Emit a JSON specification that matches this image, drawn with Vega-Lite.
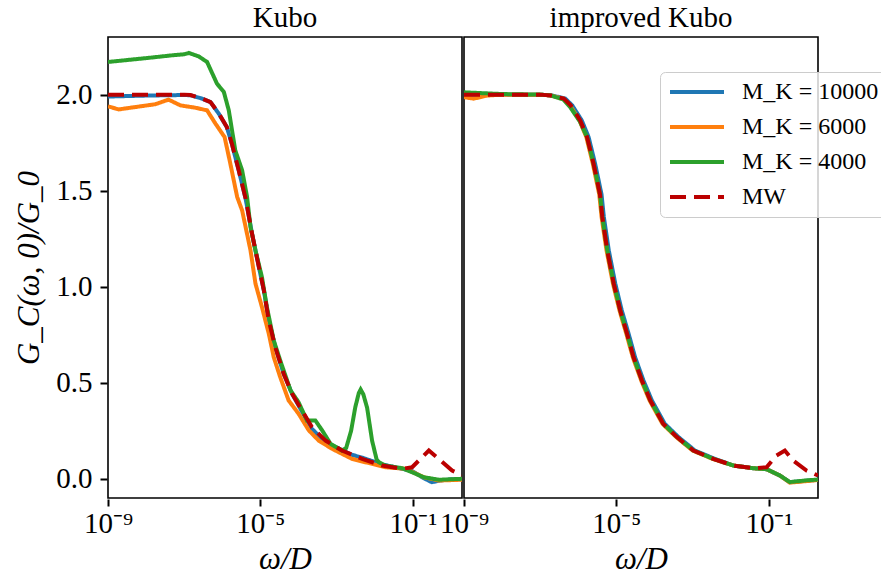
{
  "$schema": "https://vega.github.io/schema/vega-lite/v6.json",
  "padding": {"left": 13, "top": 4, "right": 0, "bottom": 0},
  "background": "white",
  "datasets": {
    "curves": [
      {"panel": "Kubo", "series": "M_K = 10000", "x": 1e-9, "y": 1.99},
      {"panel": "Kubo", "series": "M_K = 10000", "x": 1e-8, "y": 1.995},
      {"panel": "Kubo", "series": "M_K = 10000", "x": 1e-7, "y": 1.998},
      {"panel": "Kubo", "series": "M_K = 10000", "x": 1.445e-7, "y": 1.997},
      {"panel": "Kubo", "series": "M_K = 10000", "x": 2.951e-7, "y": 1.979},
      {"panel": "Kubo", "series": "M_K = 10000", "x": 4.898e-7, "y": 1.961},
      {"panel": "Kubo", "series": "M_K = 10000", "x": 8.128e-7, "y": 1.9},
      {"panel": "Kubo", "series": "M_K = 10000", "x": 1.318e-6, "y": 1.83},
      {"panel": "Kubo", "series": "M_K = 10000", "x": 1.778e-6, "y": 1.745},
      {"panel": "Kubo", "series": "M_K = 10000", "x": 2.692e-6, "y": 1.606},
      {"panel": "Kubo", "series": "M_K = 10000", "x": 4.074e-6, "y": 1.46},
      {"panel": "Kubo", "series": "M_K = 10000", "x": 6.026e-6, "y": 1.276},
      {"panel": "Kubo", "series": "M_K = 10000", "x": 9.12e-6, "y": 1.102},
      {"panel": "Kubo", "series": "M_K = 10000", "x": 1.23e-5, "y": 0.981},
      {"panel": "Kubo", "series": "M_K = 10000", "x": 1.66e-5, "y": 0.824},
      {"panel": "Kubo", "series": "M_K = 10000", "x": 2.455e-5, "y": 0.685},
      {"panel": "Kubo", "series": "M_K = 10000", "x": 4.074e-5, "y": 0.547},
      {"panel": "Kubo", "series": "M_K = 10000", "x": 6.761e-5, "y": 0.443},
      {"panel": "Kubo", "series": "M_K = 10000", "x": 1.23e-4, "y": 0.35},
      {"panel": "Kubo", "series": "M_K = 10000", "x": 2.239e-4, "y": 0.26},
      {"panel": "Kubo", "series": "M_K = 10000", "x": 5.129e-4, "y": 0.19},
      {"panel": "Kubo", "series": "M_K = 10000", "x": 1.38e-3, "y": 0.15},
      {"panel": "Kubo", "series": "M_K = 10000", "x": 2.512e-3, "y": 0.125},
      {"panel": "Kubo", "series": "M_K = 10000", "x": 4.677e-3, "y": 0.11},
      {"panel": "Kubo", "series": "M_K = 10000", "x": 1.549e-2, "y": 0.075},
      {"panel": "Kubo", "series": "M_K = 10000", "x": 5.248e-2, "y": 0.052},
      {"panel": "Kubo", "series": "M_K = 10000", "x": 0.0955, "y": 0.04},
      {"panel": "Kubo", "series": "M_K = 10000", "x": 0.195, "y": 0.003},
      {"panel": "Kubo", "series": "M_K = 10000", "x": 0.316, "y": -0.018},
      {"panel": "Kubo", "series": "M_K = 10000", "x": 0.4786, "y": -0.01},
      {"panel": "Kubo", "series": "M_K = 10000", "x": 1.0, "y": -0.003},
      {"panel": "Kubo", "series": "M_K = 10000", "x": 1.95, "y": -0.002},

      {"panel": "Kubo", "series": "M_K = 6000", "x": 1e-9, "y": 1.939},
      {"panel": "Kubo", "series": "M_K = 6000", "x": 1.905e-9, "y": 1.923},
      {"panel": "Kubo", "series": "M_K = 6000", "x": 1.738e-8, "y": 1.95},
      {"panel": "Kubo", "series": "M_K = 6000", "x": 3.89e-8, "y": 1.974},
      {"panel": "Kubo", "series": "M_K = 6000", "x": 7.943e-8, "y": 1.944},
      {"panel": "Kubo", "series": "M_K = 6000", "x": 1.95e-7, "y": 1.932},
      {"panel": "Kubo", "series": "M_K = 6000", "x": 3.981e-7, "y": 1.918},
      {"panel": "Kubo", "series": "M_K = 6000", "x": 6.607e-7, "y": 1.849},
      {"panel": "Kubo", "series": "M_K = 6000", "x": 1.148e-6, "y": 1.779},
      {"panel": "Kubo", "series": "M_K = 6000", "x": 1.622e-6, "y": 1.641},
      {"panel": "Kubo", "series": "M_K = 6000", "x": 2.455e-6, "y": 1.467},
      {"panel": "Kubo", "series": "M_K = 6000", "x": 3.311e-6, "y": 1.397},
      {"panel": "Kubo", "series": "M_K = 6000", "x": 5.495e-6, "y": 1.189},
      {"panel": "Kubo", "series": "M_K = 6000", "x": 7.413e-6, "y": 1.016},
      {"panel": "Kubo", "series": "M_K = 6000", "x": 1.096e-5, "y": 0.894},
      {"panel": "Kubo", "series": "M_K = 6000", "x": 1.66e-5, "y": 0.755},
      {"panel": "Kubo", "series": "M_K = 6000", "x": 2.239e-5, "y": 0.633},
      {"panel": "Kubo", "series": "M_K = 6000", "x": 3.311e-5, "y": 0.529},
      {"panel": "Kubo", "series": "M_K = 6000", "x": 5.495e-5, "y": 0.408},
      {"panel": "Kubo", "series": "M_K = 6000", "x": 1e-4, "y": 0.339},
      {"panel": "Kubo", "series": "M_K = 6000", "x": 1.862e-4, "y": 0.252},
      {"panel": "Kubo", "series": "M_K = 6000", "x": 3.388e-4, "y": 0.199},
      {"panel": "Kubo", "series": "M_K = 6000", "x": 7.586e-4, "y": 0.156},
      {"panel": "Kubo", "series": "M_K = 6000", "x": 2.512e-3, "y": 0.104},
      {"panel": "Kubo", "series": "M_K = 6000", "x": 5.754e-3, "y": 0.086},
      {"panel": "Kubo", "series": "M_K = 6000", "x": 1.905e-2, "y": 0.06},
      {"panel": "Kubo", "series": "M_K = 6000", "x": 6.457e-2, "y": 0.052},
      {"panel": "Kubo", "series": "M_K = 6000", "x": 0.195, "y": 0.008},
      {"panel": "Kubo", "series": "M_K = 6000", "x": 0.4786, "y": -0.009},
      {"panel": "Kubo", "series": "M_K = 6000", "x": 1.95, "y": -0.005},

      {"panel": "Kubo", "series": "M_K = 4000", "x": 1e-9, "y": 2.17},
      {"panel": "Kubo", "series": "M_K = 4000", "x": 1e-8, "y": 2.19},
      {"panel": "Kubo", "series": "M_K = 4000", "x": 5.012e-8, "y": 2.205},
      {"panel": "Kubo", "series": "M_K = 4000", "x": 1e-7, "y": 2.21},
      {"panel": "Kubo", "series": "M_K = 4000", "x": 1.318e-7, "y": 2.217},
      {"panel": "Kubo", "series": "M_K = 4000", "x": 2.399e-7, "y": 2.199},
      {"panel": "Kubo", "series": "M_K = 4000", "x": 3.981e-7, "y": 2.17},
      {"panel": "Kubo", "series": "M_K = 4000", "x": 7.244e-7, "y": 2.057},
      {"panel": "Kubo", "series": "M_K = 4000", "x": 1.096e-6, "y": 2.014},
      {"panel": "Kubo", "series": "M_K = 4000", "x": 1.479e-6, "y": 1.918},
      {"panel": "Kubo", "series": "M_K = 4000", "x": 2.188e-6, "y": 1.71},
      {"panel": "Kubo", "series": "M_K = 4000", "x": 3.311e-6, "y": 1.606},
      {"panel": "Kubo", "series": "M_K = 4000", "x": 4.467e-6, "y": 1.467},
      {"panel": "Kubo", "series": "M_K = 4000", "x": 5.495e-6, "y": 1.31},
      {"panel": "Kubo", "series": "M_K = 4000", "x": 7.413e-6, "y": 1.189},
      {"panel": "Kubo", "series": "M_K = 4000", "x": 1.096e-5, "y": 1.05},
      {"panel": "Kubo", "series": "M_K = 4000", "x": 1.479e-5, "y": 0.894},
      {"panel": "Kubo", "series": "M_K = 4000", "x": 2.239e-5, "y": 0.72},
      {"panel": "Kubo", "series": "M_K = 4000", "x": 3.311e-5, "y": 0.616},
      {"panel": "Kubo", "series": "M_K = 4000", "x": 6.166e-5, "y": 0.46},
      {"panel": "Kubo", "series": "M_K = 4000", "x": 1e-4, "y": 0.399},
      {"panel": "Kubo", "series": "M_K = 4000", "x": 1.66e-4, "y": 0.304},
      {"panel": "Kubo", "series": "M_K = 4000", "x": 2.754e-4, "y": 0.304},
      {"panel": "Kubo", "series": "M_K = 4000", "x": 4.169e-4, "y": 0.252},
      {"panel": "Kubo", "series": "M_K = 4000", "x": 6.918e-4, "y": 0.182},
      {"panel": "Kubo", "series": "M_K = 4000", "x": 1.38e-3, "y": 0.147},
      {"panel": "Kubo", "series": "M_K = 4000", "x": 1.778e-3, "y": 0.16},
      {"panel": "Kubo", "series": "M_K = 4000", "x": 2.399e-3, "y": 0.25},
      {"panel": "Kubo", "series": "M_K = 4000", "x": 3.09e-3, "y": 0.373},
      {"panel": "Kubo", "series": "M_K = 4000", "x": 3.802e-3, "y": 0.445},
      {"panel": "Kubo", "series": "M_K = 4000", "x": 4.266e-3, "y": 0.465},
      {"panel": "Kubo", "series": "M_K = 4000", "x": 5.012e-3, "y": 0.44},
      {"panel": "Kubo", "series": "M_K = 4000", "x": 6.31e-3, "y": 0.37},
      {"panel": "Kubo", "series": "M_K = 4000", "x": 8.511e-3, "y": 0.199},
      {"panel": "Kubo", "series": "M_K = 4000", "x": 1.122e-2, "y": 0.1},
      {"panel": "Kubo", "series": "M_K = 4000", "x": 1.288e-2, "y": 0.086},
      {"panel": "Kubo", "series": "M_K = 4000", "x": 1.905e-2, "y": 0.069},
      {"panel": "Kubo", "series": "M_K = 4000", "x": 5.248e-2, "y": 0.055},
      {"panel": "Kubo", "series": "M_K = 4000", "x": 0.0955, "y": 0.034},
      {"panel": "Kubo", "series": "M_K = 4000", "x": 0.195, "y": 0.008},
      {"panel": "Kubo", "series": "M_K = 4000", "x": 0.4786, "y": -0.005},
      {"panel": "Kubo", "series": "M_K = 4000", "x": 1.95, "y": 0.0},

      {"panel": "Kubo", "series": "MW", "x": 1e-9, "y": 2.0},
      {"panel": "Kubo", "series": "MW", "x": 1e-7, "y": 2.0},
      {"panel": "Kubo", "series": "MW", "x": 1.445e-7, "y": 1.998},
      {"panel": "Kubo", "series": "MW", "x": 2.951e-7, "y": 1.979},
      {"panel": "Kubo", "series": "MW", "x": 4.898e-7, "y": 1.961},
      {"panel": "Kubo", "series": "MW", "x": 8.128e-7, "y": 1.901},
      {"panel": "Kubo", "series": "MW", "x": 1.318e-6, "y": 1.831},
      {"panel": "Kubo", "series": "MW", "x": 1.778e-6, "y": 1.745},
      {"panel": "Kubo", "series": "MW", "x": 2.692e-6, "y": 1.606},
      {"panel": "Kubo", "series": "MW", "x": 4.074e-6, "y": 1.46},
      {"panel": "Kubo", "series": "MW", "x": 6.026e-6, "y": 1.276},
      {"panel": "Kubo", "series": "MW", "x": 9.12e-6, "y": 1.102},
      {"panel": "Kubo", "series": "MW", "x": 1.23e-5, "y": 0.981},
      {"panel": "Kubo", "series": "MW", "x": 1.66e-5, "y": 0.824},
      {"panel": "Kubo", "series": "MW", "x": 2.455e-5, "y": 0.685},
      {"panel": "Kubo", "series": "MW", "x": 4.074e-5, "y": 0.547},
      {"panel": "Kubo", "series": "MW", "x": 6.761e-5, "y": 0.443},
      {"panel": "Kubo", "series": "MW", "x": 1.23e-4, "y": 0.356},
      {"panel": "Kubo", "series": "MW", "x": 2.239e-4, "y": 0.269},
      {"panel": "Kubo", "series": "MW", "x": 5.129e-4, "y": 0.199},
      {"panel": "Kubo", "series": "MW", "x": 1.38e-3, "y": 0.147},
      {"panel": "Kubo", "series": "MW", "x": 4.677e-3, "y": 0.104},
      {"panel": "Kubo", "series": "MW", "x": 1.549e-2, "y": 0.069},
      {"panel": "Kubo", "series": "MW", "x": 5.248e-2, "y": 0.052},
      {"panel": "Kubo", "series": "MW", "x": 0.0955, "y": 0.06},
      {"panel": "Kubo", "series": "MW", "x": 0.1585, "y": 0.104},
      {"panel": "Kubo", "series": "MW", "x": 0.263, "y": 0.147},
      {"panel": "Kubo", "series": "MW", "x": 0.4786, "y": 0.104},
      {"panel": "Kubo", "series": "MW", "x": 1.072, "y": 0.043},
      {"panel": "Kubo", "series": "MW", "x": 1.95, "y": 0.02},

      {"panel": "improved Kubo", "series": "M_K = 10000", "x": 1e-9, "y": 2.0},
      {"panel": "improved Kubo", "series": "M_K = 10000", "x": 1e-7, "y": 2.0},
      {"panel": "improved Kubo", "series": "M_K = 10000", "x": 2.04e-7, "y": 1.996},
      {"panel": "improved Kubo", "series": "M_K = 10000", "x": 4.57e-7, "y": 1.979},
      {"panel": "improved Kubo", "series": "M_K = 10000", "x": 6.92e-7, "y": 1.944},
      {"panel": "improved Kubo", "series": "M_K = 10000", "x": 1.23e-6, "y": 1.866},
      {"panel": "improved Kubo", "series": "M_K = 10000", "x": 1.861e-6, "y": 1.779},
      {"panel": "improved Kubo", "series": "M_K = 10000", "x": 2.753e-6, "y": 1.641},
      {"panel": "improved Kubo", "series": "M_K = 10000", "x": 4.07e-6, "y": 1.48},
      {"panel": "improved Kubo", "series": "M_K = 10000", "x": 4.675e-6, "y": 1.363},
      {"panel": "improved Kubo", "series": "M_K = 10000", "x": 6.306e-6, "y": 1.189},
      {"panel": "improved Kubo", "series": "M_K = 10000", "x": 9.33e-6, "y": 1.016},
      {"panel": "improved Kubo", "series": "M_K = 10000", "x": 1.38e-5, "y": 0.877},
      {"panel": "improved Kubo", "series": "M_K = 10000", "x": 2.088e-5, "y": 0.755},
      {"panel": "improved Kubo", "series": "M_K = 10000", "x": 3.089e-5, "y": 0.633},
      {"panel": "improved Kubo", "series": "M_K = 10000", "x": 5.126e-5, "y": 0.512},
      {"panel": "improved Kubo", "series": "M_K = 10000", "x": 8.507e-5, "y": 0.408},
      {"panel": "improved Kubo", "series": "M_K = 10000", "x": 1.861e-4, "y": 0.286},
      {"panel": "improved Kubo", "series": "M_K = 10000", "x": 4.263e-4, "y": 0.217},
      {"panel": "improved Kubo", "series": "M_K = 10000", "x": 1.148e-3, "y": 0.147},
      {"panel": "improved Kubo", "series": "M_K = 10000", "x": 3.8e-3, "y": 0.104},
      {"panel": "improved Kubo", "series": "M_K = 10000", "x": 1.175e-2, "y": 0.069},
      {"panel": "improved Kubo", "series": "M_K = 10000", "x": 3.89e-2, "y": 0.055},
      {"panel": "improved Kubo", "series": "M_K = 10000", "x": 8.71e-2, "y": 0.05},
      {"panel": "improved Kubo", "series": "M_K = 10000", "x": 0.195, "y": 0.017},
      {"panel": "improved Kubo", "series": "M_K = 10000", "x": 0.355, "y": -0.018},
      {"panel": "improved Kubo", "series": "M_K = 10000", "x": 1.0, "y": -0.01},
      {"panel": "improved Kubo", "series": "M_K = 10000", "x": 1.95, "y": -0.005},

      {"panel": "improved Kubo", "series": "M_K = 6000", "x": 1e-9, "y": 1.987},
      {"panel": "improved Kubo", "series": "M_K = 6000", "x": 1.8e-9, "y": 1.979},
      {"panel": "improved Kubo", "series": "M_K = 6000", "x": 4e-9, "y": 1.995},
      {"panel": "improved Kubo", "series": "M_K = 6000", "x": 1e-8, "y": 2.0},
      {"panel": "improved Kubo", "series": "M_K = 6000", "x": 1e-7, "y": 2.0},
      {"panel": "improved Kubo", "series": "M_K = 6000", "x": 1.778e-7, "y": 1.996},
      {"panel": "improved Kubo", "series": "M_K = 6000", "x": 3.98e-7, "y": 1.979},
      {"panel": "improved Kubo", "series": "M_K = 6000", "x": 6.026e-7, "y": 1.944},
      {"panel": "improved Kubo", "series": "M_K = 6000", "x": 1.072e-6, "y": 1.866},
      {"panel": "improved Kubo", "series": "M_K = 6000", "x": 1.622e-6, "y": 1.779},
      {"panel": "improved Kubo", "series": "M_K = 6000", "x": 2.399e-6, "y": 1.641},
      {"panel": "improved Kubo", "series": "M_K = 6000", "x": 3.548e-6, "y": 1.48},
      {"panel": "improved Kubo", "series": "M_K = 6000", "x": 4.074e-6, "y": 1.363},
      {"panel": "improved Kubo", "series": "M_K = 6000", "x": 5.495e-6, "y": 1.189},
      {"panel": "improved Kubo", "series": "M_K = 6000", "x": 8.128e-6, "y": 1.016},
      {"panel": "improved Kubo", "series": "M_K = 6000", "x": 1.202e-5, "y": 0.877},
      {"panel": "improved Kubo", "series": "M_K = 6000", "x": 1.819e-5, "y": 0.755},
      {"panel": "improved Kubo", "series": "M_K = 6000", "x": 2.691e-5, "y": 0.633},
      {"panel": "improved Kubo", "series": "M_K = 6000", "x": 4.467e-5, "y": 0.512},
      {"panel": "improved Kubo", "series": "M_K = 6000", "x": 7.413e-5, "y": 0.408},
      {"panel": "improved Kubo", "series": "M_K = 6000", "x": 1.622e-4, "y": 0.286},
      {"panel": "improved Kubo", "series": "M_K = 6000", "x": 3.715e-4, "y": 0.217},
      {"panel": "improved Kubo", "series": "M_K = 6000", "x": 1.0e-3, "y": 0.147},
      {"panel": "improved Kubo", "series": "M_K = 6000", "x": 3.311e-3, "y": 0.104},
      {"panel": "improved Kubo", "series": "M_K = 6000", "x": 1.175e-2, "y": 0.069},
      {"panel": "improved Kubo", "series": "M_K = 6000", "x": 3.89e-2, "y": 0.055},
      {"panel": "improved Kubo", "series": "M_K = 6000", "x": 8.71e-2, "y": 0.05},
      {"panel": "improved Kubo", "series": "M_K = 6000", "x": 0.195, "y": 0.017},
      {"panel": "improved Kubo", "series": "M_K = 6000", "x": 0.355, "y": -0.02},
      {"panel": "improved Kubo", "series": "M_K = 6000", "x": 1.0, "y": -0.012},
      {"panel": "improved Kubo", "series": "M_K = 6000", "x": 1.95, "y": -0.006},

      {"panel": "improved Kubo", "series": "M_K = 4000", "x": 1e-9, "y": 2.012},
      {"panel": "improved Kubo", "series": "M_K = 4000", "x": 1e-8, "y": 2.003},
      {"panel": "improved Kubo", "series": "M_K = 4000", "x": 1e-7, "y": 2.0},
      {"panel": "improved Kubo", "series": "M_K = 4000", "x": 1.862e-7, "y": 1.996},
      {"panel": "improved Kubo", "series": "M_K = 4000", "x": 4.0e-7, "y": 1.975},
      {"panel": "improved Kubo", "series": "M_K = 4000", "x": 6.1e-7, "y": 1.935},
      {"panel": "improved Kubo", "series": "M_K = 4000", "x": 1.1e-6, "y": 1.86},
      {"panel": "improved Kubo", "series": "M_K = 4000", "x": 1.698e-6, "y": 1.779},
      {"panel": "improved Kubo", "series": "M_K = 4000", "x": 2.512e-6, "y": 1.641},
      {"panel": "improved Kubo", "series": "M_K = 4000", "x": 3.715e-6, "y": 1.48},
      {"panel": "improved Kubo", "series": "M_K = 4000", "x": 4.266e-6, "y": 1.363},
      {"panel": "improved Kubo", "series": "M_K = 4000", "x": 5.754e-6, "y": 1.189},
      {"panel": "improved Kubo", "series": "M_K = 4000", "x": 8.511e-6, "y": 1.016},
      {"panel": "improved Kubo", "series": "M_K = 4000", "x": 1.259e-5, "y": 0.877},
      {"panel": "improved Kubo", "series": "M_K = 4000", "x": 1.905e-5, "y": 0.755},
      {"panel": "improved Kubo", "series": "M_K = 4000", "x": 2.818e-5, "y": 0.633},
      {"panel": "improved Kubo", "series": "M_K = 4000", "x": 4.677e-5, "y": 0.512},
      {"panel": "improved Kubo", "series": "M_K = 4000", "x": 7.762e-5, "y": 0.408},
      {"panel": "improved Kubo", "series": "M_K = 4000", "x": 1.698e-4, "y": 0.286},
      {"panel": "improved Kubo", "series": "M_K = 4000", "x": 3.89e-4, "y": 0.217},
      {"panel": "improved Kubo", "series": "M_K = 4000", "x": 1.047e-3, "y": 0.147},
      {"panel": "improved Kubo", "series": "M_K = 4000", "x": 3.467e-3, "y": 0.104},
      {"panel": "improved Kubo", "series": "M_K = 4000", "x": 1.175e-2, "y": 0.069},
      {"panel": "improved Kubo", "series": "M_K = 4000", "x": 3.89e-2, "y": 0.055},
      {"panel": "improved Kubo", "series": "M_K = 4000", "x": 8.71e-2, "y": 0.05},
      {"panel": "improved Kubo", "series": "M_K = 4000", "x": 0.195, "y": 0.017},
      {"panel": "improved Kubo", "series": "M_K = 4000", "x": 0.355, "y": -0.017},
      {"panel": "improved Kubo", "series": "M_K = 4000", "x": 1.0, "y": -0.008},
      {"panel": "improved Kubo", "series": "M_K = 4000", "x": 1.95, "y": -0.004},

      {"panel": "improved Kubo", "series": "MW", "x": 1e-9, "y": 2.0},
      {"panel": "improved Kubo", "series": "MW", "x": 1e-7, "y": 2.0},
      {"panel": "improved Kubo", "series": "MW", "x": 1.862e-7, "y": 1.996},
      {"panel": "improved Kubo", "series": "MW", "x": 4.169e-7, "y": 1.979},
      {"panel": "improved Kubo", "series": "MW", "x": 6.31e-7, "y": 1.944},
      {"panel": "improved Kubo", "series": "MW", "x": 1.122e-6, "y": 1.866},
      {"panel": "improved Kubo", "series": "MW", "x": 1.698e-6, "y": 1.779},
      {"panel": "improved Kubo", "series": "MW", "x": 2.512e-6, "y": 1.641},
      {"panel": "improved Kubo", "series": "MW", "x": 3.715e-6, "y": 1.48},
      {"panel": "improved Kubo", "series": "MW", "x": 4.266e-6, "y": 1.363},
      {"panel": "improved Kubo", "series": "MW", "x": 5.754e-6, "y": 1.189},
      {"panel": "improved Kubo", "series": "MW", "x": 8.511e-6, "y": 1.016},
      {"panel": "improved Kubo", "series": "MW", "x": 1.259e-5, "y": 0.877},
      {"panel": "improved Kubo", "series": "MW", "x": 1.905e-5, "y": 0.755},
      {"panel": "improved Kubo", "series": "MW", "x": 2.818e-5, "y": 0.633},
      {"panel": "improved Kubo", "series": "MW", "x": 4.677e-5, "y": 0.512},
      {"panel": "improved Kubo", "series": "MW", "x": 7.762e-5, "y": 0.408},
      {"panel": "improved Kubo", "series": "MW", "x": 1.698e-4, "y": 0.286},
      {"panel": "improved Kubo", "series": "MW", "x": 3.89e-4, "y": 0.217},
      {"panel": "improved Kubo", "series": "MW", "x": 1.047e-3, "y": 0.147},
      {"panel": "improved Kubo", "series": "MW", "x": 3.467e-3, "y": 0.104},
      {"panel": "improved Kubo", "series": "MW", "x": 1.175e-2, "y": 0.069},
      {"panel": "improved Kubo", "series": "MW", "x": 3.89e-2, "y": 0.055},
      {"panel": "improved Kubo", "series": "MW", "x": 8.71e-2, "y": 0.06},
      {"panel": "improved Kubo", "series": "MW", "x": 0.1585, "y": 0.121},
      {"panel": "improved Kubo", "series": "MW", "x": 0.263, "y": 0.147},
      {"panel": "improved Kubo", "series": "MW", "x": 0.4365, "y": 0.095},
      {"panel": "improved Kubo", "series": "MW", "x": 0.977, "y": 0.043},
      {"panel": "improved Kubo", "series": "MW", "x": 1.95, "y": 0.017}
    ]
  },
  "data": {"name": "curves"},
  "facet": {
    "column": {
      "field": "panel",
      "type": "nominal",
      "sort": ["Kubo", "improved Kubo"],
      "header": {"title": null, "labelFont": "Liberation Serif", "labelFontSize": 29, "labelColor": "black", "labelPadding": 3}
    }
  },
  "spacing": 0,
  "spec": {
    "width": 354,
    "height": 461,
    "layer": [
      {
        "transform": [{"filter": "datum.series !== 'MW'"}],
        "mark": {"type": "line", "strokeWidth": 4, "clip": true},
        "encoding": {
          "x": {"field": "x", "type": "quantitative"},
          "y": {"field": "y", "type": "quantitative"},
          "color": {"field": "series", "type": "nominal"},
          "strokeDash": {"field": "series", "type": "nominal"}
        }
      },
      {
        "transform": [{"filter": "datum.series === 'MW'"}],
        "mark": {"type": "line", "strokeWidth": 4, "clip": true},
        "encoding": {
          "x": {"field": "x", "type": "quantitative"},
          "y": {"field": "y", "type": "quantitative"},
          "color": {"field": "series", "type": "nominal"},
          "strokeDash": {"field": "series", "type": "nominal"}
        }
      }
    ],
    "encoding": {
      "x": {
        "field": "x", "type": "quantitative",
        "scale": {"type": "log", "domain": [1e-9, 1.95], "nice": false},
        "axis": {
          "values": [1e-9, 1e-5, 0.1],
          "labelExpr": "datum.value < 1e-7 ? '10⁻⁹' : (datum.value < 1e-3 ? '10⁻⁵' : '10⁻¹')",
          "title": "ω/D",
          "labelPadding": 3,
          "titlePadding": 6
        }
      },
      "y": {
        "field": "y", "type": "quantitative",
        "scale": {"domain": [-0.1, 2.3], "nice": false, "zero": false},
        "axis": {
          "values": [0, 0.5, 1, 1.5, 2],
          "format": ".1f",
          "title": "G_C(ω, 0)/G_0",
          "labelPadding": 8,
          "titlePadding": 10
        }
      },
      "color": {
        "field": "series", "type": "nominal",
        "scale": {"domain": ["M_K = 10000", "M_K = 6000", "M_K = 4000", "MW"], "range": ["#1f77b4", "#ff7f0e", "#2ca02c", "#bb0000"]},
        "title": null
      },
      "strokeDash": {
        "field": "series", "type": "nominal",
        "scale": {"domain": ["M_K = 10000", "M_K = 6000", "M_K = 4000", "MW"], "range": [[1, 0], [1, 0], [1, 0], [16, 8]]},
        "title": null
      }
    }
  },
  "config": {
    "view": {"stroke": "black", "strokeWidth": 1.6},
    "axis": {
      "grid": false,
      "domain": false,
      "ticks": true,
      "tickColor": "black",
      "tickWidth": 2,
      "tickSize": 7,
      "labelFont": "Liberation Serif",
      "labelFontSize": 29,
      "labelColor": "black",
      "labelFlush": false,
      "labelOverlap": false,
      "titleFont": "Liberation Serif",
      "titleFontSize": 31,
      "titleFontStyle": "italic",
      "titleFontWeight": "normal",
      "titleColor": "black"
    },
    "legend": {
      "orient": "none",
      "legendX": 552,
      "legendY": 35,
      "title": null,
      "symbolType": "M-1,0H4.4",
      "symbolSize": 400,
      "symbolStrokeWidth": 4,
      "labelFont": "Liberation Serif",
      "labelFontSize": 24,
      "labelColor": "black",
      "labelOffset": 50,
      "rowPadding": 11,
      "padding": 8,
      "fillColor": "rgba(255,255,255,0.8)",
      "strokeColor": "#cccccc",
      "cornerRadius": 5
    }
  }
}
